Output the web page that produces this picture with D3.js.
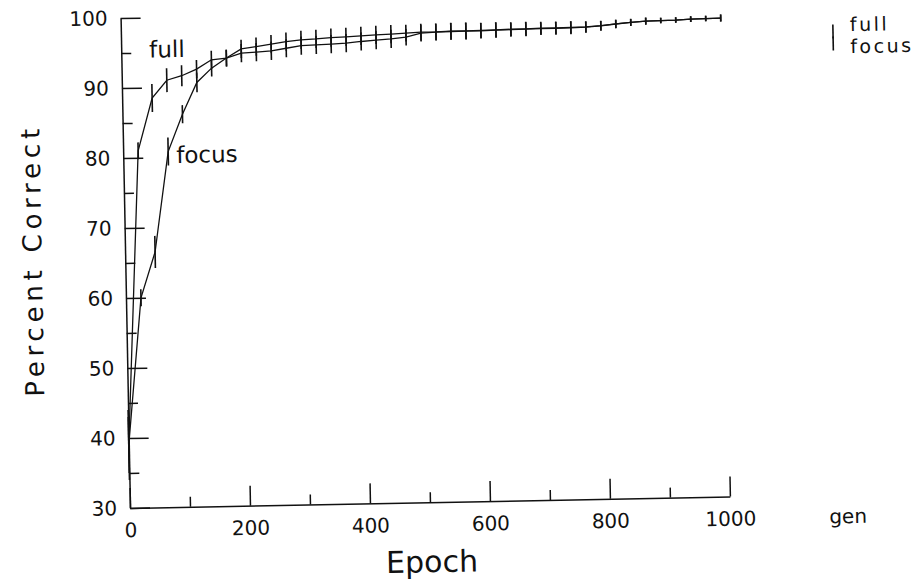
<!DOCTYPE html>
<html>
<head>
<meta charset="utf-8">
<script src="https://cdn.jsdelivr.net/npm/d3@7"></script>
<style>
  body { margin: 0; background: #fff; }
  svg { display: block; }
  text { font-family: "DejaVu Sans", sans-serif; fill: #111; }
</style>
</head>
<body>
<svg id="chart" width="913" height="581"></svg>
<script>
// ---- data ----
const epochs = [0,25,50,75,100,125,150,175,200,225,250,275,300,325,350,375,400,425,450,475,500,
                525,550,575,600,625,650,675,700,725,750,775,800,825,850,875,900,925,950,975,1000];
const fullValues = [39,81.0,88.5,91.0,91.6,92.5,93.8,94.0,94.66,94.76,94.9,95.24,95.57,95.63,95.7,95.8,96.0,
                    96.14,96.29,96.49,97.03,97.12,97.18,97.2,97.2,97.25,97.28,97.3,97.33,97.34,97.37,97.42,
                    97.58,97.8,97.98,98.12,98.17,98.2,98.29,98.33,98.36];
const fullErrors = [5,1.2,2.0,1.7,1.5,1.3,1.3,1.2,1.3,1.3,1.3,1.3,1.3,1.3,1.3,1.3,1.3,1.3,1.3,1.2,1.2,
                    1.2,1.2,1.2,1.1,1.1,1.0,1.0,0.9,0.9,0.9,0.8,0.7,0.6,0.5,0.5,0.4,0.4,0.4,0.4,0.5];
const focusValues = [39,60.0,66.5,80.8,86.1,90.6,92.6,94.0,95.27,95.56,95.86,96.19,96.39,96.49,96.64,96.7,96.8,
                     96.9,96.96,97.06,97.17,97.17,97.23,97.23,97.25,97.29,97.34,97.36,97.41,97.41,97.43,97.47,
                     97.61,97.81,98.0,98.13,98.17,98.2,98.29,98.33,98.36];
const focusErrors = [4,1.2,2.3,2.0,1.3,1.4,1.2,1.2,1.3,1.3,1.3,1.3,1.3,1.3,1.3,1.3,1.3,1.3,1.3,1.2,1.2,
                     1.2,1.2,1.2,1.1,1.1,1.0,1.0,0.9,0.9,0.9,0.8,0.7,0.6,0.5,0.5,0.4,0.4,0.4,0.4,0.5];
const seriesNames = ["full", "focus"];
const yTicks = [30,40,50,60,70,80,90,100];
const yMinorTicks = [35,45,55,65,75,85,95];
const xTicks = [0,200,400,600,800,1000];
const xMinorTicks = [100,300,500,700,900];
const xTitle = "Epoch";
const yTitle = "Percent Correct";
const xUnit = "gen";

// ---- drawing ----
const svg = d3.select("#chart");
const ox = 130, oy = 508;
const g = svg.append("g").attr("transform", `rotate(-1.1,${ox},${oy})`);

const x = d3.scaleLinear().domain([0, 1000]).range([130, 730]);
const y = d3.scaleLinear().domain([30, 100]).range([508, 18]);

const ink = "#111";

// y axis
g.append("g").attr("transform", `translate(${ox},0)`)
  .call(d3.axisLeft(y).tickValues(yTicks).tickFormat(d3.format("d"))
        .tickSizeInner(-20).tickSizeOuter(0).tickPadding(13));
g.append("g").attr("transform", `translate(${ox},0)`)
  .call(d3.axisLeft(y).tickValues(yMinorTicks).tickSizeInner(-10).tickSizeOuter(0).tickFormat(""))
  .select(".domain").remove();

// x axis
g.append("g").attr("transform", `translate(0,${oy})`)
  .call(d3.axisBottom(x).tickValues(xTicks).tickFormat(d3.format("d"))
        .tickSizeInner(-20).tickSizeOuter(0).tickPadding(15));
g.append("g").attr("transform", `translate(0,${oy})`)
  .call(d3.axisBottom(x).tickValues(xMinorTicks).tickSizeInner(-10).tickSizeOuter(0).tickFormat(""))
  .select(".domain").remove();

g.selectAll(".domain, .tick line").attr("stroke", ink).attr("stroke-width", 1.5);
g.selectAll(".tick text").attr("font-size", 20).attr("fill", ink)
  .style("font-family", '"DejaVu Sans", sans-serif');

// series
const series = [
  { name: seriesNames[0], values: fullValues, errors: fullErrors },
  { name: seriesNames[1], values: focusValues, errors: focusErrors }
];
const line = d3.line().x(d => x(d.e)).y(d => y(d.v));
series.forEach(s => {
  const pts = epochs.map((e, i) => ({ e, v: s.values[i], err: s.errors[i] }));
  g.append("path").datum(pts).attr("d", line)
    .attr("fill", "none").attr("stroke", ink).attr("stroke-width", 1.3);
  g.append("g").selectAll("line").data(pts).join("line")
    .attr("x1", d => x(d.e)).attr("x2", d => x(d.e))
    .attr("y1", d => y(d.v - d.err)).attr("y2", d => y(d.v + d.err))
    .attr("stroke", ink).attr("stroke-width", 1.6);
});

// in-plot series labels
g.append("text").attr("x", 158).attr("y", 58).attr("font-size", 23).text(seriesNames[0]);
g.append("text").attr("x", 183).attr("y", 164).attr("font-size", 23).text(seriesNames[1]);

// legend
g.append("line").attr("x1", 842).attr("x2", 842).attr("y1", 38).attr("y2", 52)
  .attr("stroke", ink).attr("stroke-width", 1.6);
g.append("line").attr("x1", 842).attr("x2", 842).attr("y1", 50).attr("y2", 64)
  .attr("stroke", ink).attr("stroke-width", 1.6);
g.append("text").attr("x", 859).attr("y", 45).attr("font-size", 19)
  .attr("letter-spacing", 2.5).text(seriesNames[0]);
g.append("text").attr("x", 859).attr("y", 67).attr("font-size", 19)
  .attr("letter-spacing", 2.5).text(seriesNames[1]);

// axis titles
g.append("text").attr("x", 829).attr("y", 537).attr("font-size", 20).text(xUnit);
g.append("text").attr("x", 431).attr("y", 578).attr("font-size", 30)
  .attr("text-anchor", "middle").text(xTitle);
g.append("text").attr("transform", "translate(39,261) rotate(-90)")
  .attr("text-anchor", "middle").attr("dominant-baseline", "middle")
  .attr("font-size", 26).attr("textLength", 268).attr("lengthAdjust", "spacing").text(yTitle);
</script>
</body>
</html>
